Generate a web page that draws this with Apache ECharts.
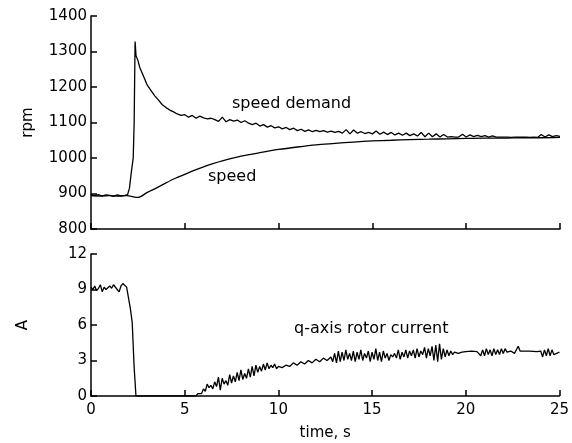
<!DOCTYPE html>
<html><head><meta charset="utf-8">
<script src="https://cdn.jsdelivr.net/npm/echarts@6/dist/echarts.min.js"></script>
<style>html,body{margin:0;padding:0;background:#fff}#c{width:572px;height:443px}</style>
</head><body><div id="c"></div>
<script>
// ---- data ----
const xTicks = [0, 5, 10, 15, 20, 25];
const rpmTicks = [800, 900, 1000, 1100, 1200, 1300, 1400];
const ampTicks = [0, 3, 6, 9, 12];

// speed demand, [time s, rpm]
const speedDemand = [[0,896],[0.2,894],[0.4,897],[0.6,893],[0.8,896],[1.0,895],[1.2,892],[1.4,896],[1.6,893],[1.8,895],[1.95,897],[2.05,915],[2.15,960],[2.25,1000],[2.3,1100],[2.35,1328],[2.4,1288],[2.5,1275],[2.6,1255],[2.8,1230],[3.0,1205],[3.2,1190],[3.4,1175],[3.6,1163],[3.8,1150],[4.0,1142],[4.2,1135],[4.4,1130],[4.6,1124],[4.8,1120],[5.0,1122],[5.2,1115],[5.4,1120],[5.6,1112],[5.8,1118],[6.0,1113],[6.2,1110],[6.4,1112],[6.6,1108],[6.8,1103],[7.0,1115],[7.2,1102],[7.4,1108],[7.6,1104],[7.8,1107],[8.0,1100],[8.2,1105],[8.4,1098],[8.6,1094],[8.8,1098],[9.0,1090],[9.2,1094],[9.4,1087],[9.6,1091],[9.8,1085],[10.0,1088],[10.2,1082],[10.4,1086],[10.6,1080],[10.8,1084],[11.0,1077],[11.2,1081],[11.4,1075],[11.6,1079],[11.8,1074],[12.0,1078],[12.2,1074],[12.4,1077],[12.6,1073],[12.8,1076],[13.0,1072],[13.2,1075],[13.4,1070],[13.6,1080],[13.8,1068],[14.0,1079],[14.2,1070],[14.4,1074],[14.6,1069],[14.8,1072],[15.0,1068],[15.2,1076],[15.4,1067],[15.6,1073],[15.8,1066],[16.0,1072],[16.2,1065],[16.4,1070],[16.6,1064],[16.8,1070],[17.0,1063],[17.2,1068],[17.4,1062],[17.6,1072],[17.8,1060],[18.0,1070],[18.2,1060],[18.4,1068],[18.6,1059],[18.8,1066],[19.0,1059],[19.2,1060],[19.4,1059],[19.6,1059],[19.8,1067],[20.0,1059],[20.2,1065],[20.4,1060],[20.6,1064],[20.8,1060],[21.0,1063],[21.2,1059],[21.4,1062],[21.6,1059],[21.8,1059],[22.0,1059],[22.2,1059],[22.4,1058],[22.6,1059],[22.8,1059],[23.0,1059],[23.2,1059],[23.4,1058],[23.6,1059],[23.8,1058],[24.0,1066],[24.2,1059],[24.4,1065],[24.6,1060],[24.8,1063],[25.0,1061]];

// actual speed, [time s, rpm]
const speed = [[0,894],[0.5,893],[1.0,894],[1.5,893],[1.9,894],[2.5,889],[3,903],[3.5,916],[4,930],[4.5,943],[5,954],[5.5,965],[6,975],[6.5,984],[7,992],[8,1005],[9,1015],[10,1024],[11,1031],[12,1037],[13,1041],[14,1045],[15,1048],[16,1050],[17,1052],[18,1053],[19,1054],[20,1055],[21,1056],[22,1056],[23,1057],[24,1057],[25,1058]];

// q-axis rotor current, [time s, A]
const rotorCurrent = [[0,9.2],[0.1,9.0],[0.2,9.3],[0.3,8.9],[0.4,9.1],[0.5,9.4],[0.6,8.8],[0.7,9.2],[0.8,9.0],[0.9,8.9],[1.0,9.3],[1.1,9.1],[1.2,9.4],[1.3,9.5],[1.4,9.0],[1.5,8.8],[1.6,9.3],[1.7,9.5],[1.8,9.4],[1.9,9.2],[2.0,9.2],[2.1,7.4],[2.2,6.2],[2.3,2.5],[2.4,0],[3.5,0],[3.6,0.1],[3.7,0],[4.3,0],[4.4,0.1],[4.5,0],[5.6,0],[5.7,0.2],[5.8,0.3],[5.9,0.2],[6.0,0.6],[6.1,0.4],[6.2,1.0],[6.3,0.7],[6.4,0.9],[6.5,0.6],[6.6,1.2],[6.7,0.8],[6.8,1.6],[6.9,0.5],[7.0,1.5],[7.1,1.0],[7.2,1.3],[7.3,0.9],[7.4,1.8],[7.5,1.1],[7.6,1.7],[7.7,1.2],[7.8,2.0],[7.9,1.3],[8.0,2.2],[8.1,1.4],[8.2,1.9],[8.3,1.5],[8.4,2.3],[8.5,1.6],[8.6,2.5],[8.7,1.7],[8.8,2.6],[8.9,2.0],[9.0,2.5],[9.1,2.1],[9.2,2.7],[9.3,2.2],[9.4,2.8],[9.5,2.3],[9.6,2.6],[9.7,2.4],[9.8,2.7],[9.9,2.3],[10.0,2.5],[10.2,2.4],[10.4,2.6],[10.6,2.5],[10.8,2.8],[11.0,2.6],[11.2,2.9],[11.4,2.7],[11.6,3.0],[11.8,2.8],[12.0,3.1],[12.2,2.9],[12.4,3.2],[12.6,3.0],[12.8,3.3],[12.9,2.9],[13.0,3.6],[13.1,2.8],[13.2,3.8],[13.3,2.9],[13.4,3.7],[13.5,3.0],[13.6,3.9],[13.7,3.1],[13.8,3.6],[13.9,3.0],[14.0,3.8],[14.1,2.9],[14.2,3.7],[14.3,3.1],[14.4,3.9],[14.5,3.0],[14.6,3.6],[14.7,3.2],[14.8,3.8],[14.9,2.9],[15.0,3.7],[15.1,3.1],[15.2,4.0],[15.3,3.0],[15.4,3.7],[15.5,2.9],[15.6,3.8],[15.7,3.2],[15.8,3.6],[15.9,3.0],[16.0,3.5],[16.1,3.3],[16.2,3.6],[16.3,3.2],[16.4,3.9],[16.5,3.1],[16.6,3.7],[16.7,3.3],[16.8,3.9],[16.9,3.2],[17.0,3.8],[17.1,3.4],[17.2,3.9],[17.3,3.2],[17.4,4.0],[17.5,3.3],[17.6,3.8],[17.7,3.5],[17.8,4.1],[17.9,3.2],[18.0,4.0],[18.1,3.4],[18.2,4.2],[18.3,3.0],[18.4,4.3],[18.5,2.9],[18.6,4.4],[18.7,3.1],[18.8,4.0],[18.9,3.3],[19.0,3.9],[19.1,3.4],[19.2,3.8],[19.3,3.5],[19.4,3.7],[19.6,3.6],[19.8,3.7],[20.0,3.75],[20.3,3.8],[20.6,3.75],[20.7,3.9],[20.8,3.4],[20.9,3.9],[21.0,3.4],[21.1,4.0],[21.2,3.5],[21.3,3.9],[21.4,3.4],[21.5,4.0],[21.6,3.5],[21.7,3.9],[21.8,3.5],[21.9,4.0],[22.0,3.6],[22.1,4.0],[22.2,3.7],[22.4,3.8],[22.6,3.6],[22.8,4.2],[22.9,3.8],[23.0,3.75],[23.4,3.8],[23.8,3.75],[24.0,3.8],[24.1,3.3],[24.2,3.9],[24.3,3.4],[24.4,4.0],[24.5,3.4],[24.6,3.9],[24.7,3.5],[24.8,3.6],[25.0,3.7]];

const FONT = 'DejaVu Sans';
const chart = echarts.init(document.getElementById('c'), null, {renderer: 'canvas'});

const axisLine = {lineStyle: {color: '#000', width: 1.5}};
const tickStyle = {inside: true, length: 6, lineStyle: {color: '#000', width: 1.5}};
const labelStyle = {color: '#000', fontFamily: FONT, fontSize: 15, formatter: v => String(v)};
const nameStyle = {color: '#000', fontFamily: FONT, fontSize: 15};

chart.setOption({
  animation: false,
  backgroundColor: '#fff',
  grid: [
    {left: 91, right: 12, top: 16, height: 213},
    {left: 91, right: 12, top: 254, height: 142}
  ],
  xAxis: [
    {gridIndex: 0, type: 'value', min: xTicks[0], max: xTicks[xTicks.length-1], interval: 5,
     axisLine: axisLine, axisTick: tickStyle, axisLabel: {show: false}, splitLine: {show: false}},
    {gridIndex: 1, type: 'value', min: xTicks[0], max: xTicks[xTicks.length-1], interval: 5,
     axisLine: axisLine, axisTick: tickStyle,
     axisLabel: Object.assign({margin: 7}, labelStyle), splitLine: {show: false},
     name: 'time, s', nameLocation: 'middle', nameGap: 30, nameTextStyle: nameStyle}
  ],
  yAxis: [
    {gridIndex: 0, type: 'value', min: rpmTicks[0], max: rpmTicks[rpmTicks.length-1], interval: 100,
     axisLine: Object.assign({show: true}, axisLine), axisTick: Object.assign({show: true}, tickStyle),
     axisLabel: Object.assign({margin: 4}, labelStyle), splitLine: {show: false},
     name: 'rpm', nameLocation: 'middle', nameGap: 55, nameRotate: 90, nameTextStyle: nameStyle},
    {gridIndex: 1, type: 'value', min: ampTicks[0], max: ampTicks[ampTicks.length-1], interval: 3,
     axisLine: Object.assign({show: true}, axisLine), axisTick: Object.assign({show: true}, tickStyle),
     axisLabel: Object.assign({margin: 4}, labelStyle), splitLine: {show: false},
     name: 'A', nameLocation: 'middle', nameGap: 60, nameRotate: 90, nameTextStyle: nameStyle}
  ],
  series: [
    {type: 'line', xAxisIndex: 0, yAxisIndex: 0, data: speedDemand, symbol: 'none',
     lineStyle: {color: '#000', width: 1.3}},
    {type: 'line', xAxisIndex: 0, yAxisIndex: 0, data: speed, symbol: 'none', smooth: 0.3,
     lineStyle: {color: '#000', width: 1.3}},
    {type: 'line', xAxisIndex: 1, yAxisIndex: 1, data: rotorCurrent, symbol: 'none',
     lineStyle: {color: '#000', width: 1.3}}
  ],
  graphic: [
    {type: 'text', left: 232, top: 96, style: {text: 'speed demand', fill: '#000', font: '16px "DejaVu Sans"'}},
    {type: 'text', left: 208, top: 169, style: {text: 'speed', fill: '#000', font: '16px "DejaVu Sans"'}},
    {type: 'text', left: 294, top: 321, style: {text: 'q-axis rotor current', fill: '#000', font: '16px "DejaVu Sans"'}}
  ]
});
</script>
</body></html>
